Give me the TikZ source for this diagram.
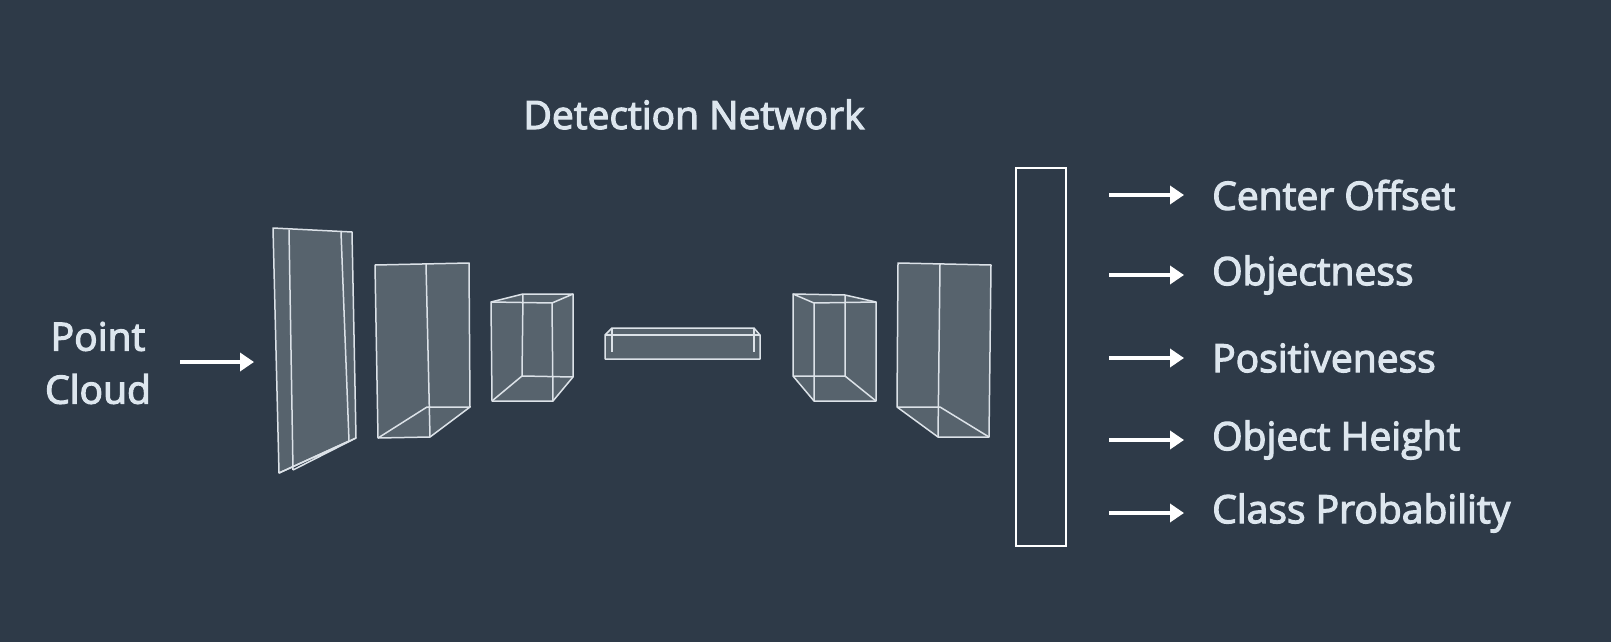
\documentclass[tikz,border=0pt]{standalone}
\usepackage{fontspec}
\setmainfont{Open Sans}[FakeBold=3]
\usetikzlibrary{arrows.meta}
\definecolor{bg}{HTML}{2E3A48}
\definecolor{txt}{HTML}{DDE6EE}
\definecolor{edge}{HTML}{DCE2E8}
\definecolor{face}{HTML}{5C6872}
\begin{document}
\begin{tikzpicture}[x=1pt,y=-1pt,
  lbl/.style={text=txt,font=\fontsize{39}{45}\selectfont,inner sep=0pt},
  arr/.style={draw=white,line width=3.5pt,-{Triangle[length=14pt,width=18pt]}},
  ed/.style={draw=edge,line width=1.5pt,line join=round},
  fc/.style={fill=face,fill opacity=0.9}]
\fill[bg] (0,0) rectangle (1611,642);
\useasboundingbox (0,0) rectangle (1611,642);
\node[lbl,anchor=base] (title) at (694,129) {Detection Network};
\node[lbl,align=center] (pc) at (98,363) {Point\\[8pt]Cloud};
\coordinate (pcs) at (180,362);
\coordinate (pce) at (254,362);
\draw[arr] (pcs) -- (pce);
% box1 slab
\path[fc,ed] (273,228)--(352,232)--(356,438)--(279,473)--cycle;
\draw[ed] (289,230)--(293,470) (341,232)--(349,441) (293,470)--(356,438) (279,473)--(349,441);
% box2
\path[fc,ed] (375,265)--(469,263)--(470,407)--(430,437)--(378,438)--cycle;
\draw[ed] (426,264)--(430,437) (378,438)--(427,407)--(470,407);
% box3
\path[fc,ed] (491,302)--(523,294)--(573,294)--(573,377)--(553,401)--(492,401)--cycle;
\draw[ed] (491,302)--(552,303)--(553,401) (552,303)--(573,294) (523,294)--(522,376)--(573,377) (522,376)--(492,401);
% box4 flat
\path[fc,ed] (605,335)--(612,328)--(754,328)--(760,335)--(760,359)--(605,359)--cycle;
\draw[ed] (605,335)--(760,335) (612,328)--(612,352) (754,328)--(754,352);
% box5
\path[fc,ed] (793,294)--(845,295)--(876,302)--(876,401)--(814,401)--(793,376)--cycle;
\draw[ed] (793,294)--(814,303)--(876,302) (814,303)--(814,401) (845,295)--(845,376)--(876,401) (793,376)--(845,376);
% box6
\path[fc,ed] (898,263)--(991,265)--(989,437)--(938,437)--(897,407)--cycle;
\draw[ed] (940,264)--(938,437) (897,407)--(940,407)--(989,437);
% output layer
\node[draw=white,line width=2.2pt,minimum width=50pt,minimum height=378pt,inner sep=0pt] (out) at (1041,357) {};
\foreach \y/\t [count=\i] in {195/Center Offset,275/Objectness,358/Positiveness,440/Object Height,513/Class Probability}{
  \coordinate (s\i) at (1109,\y);
  \coordinate (e\i) at (1184,\y);
  \draw[arr] (s\i) -- (e\i);
  \node[lbl,anchor=west] (t\i) at (1212,\y) {\t};
}
\end{tikzpicture}
\end{document}
